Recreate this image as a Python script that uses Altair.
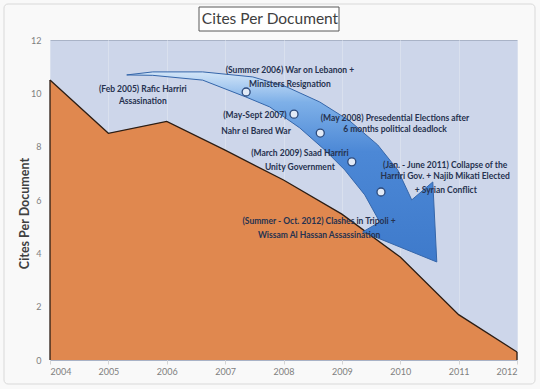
import altair as alt
import pandas as pd

# ---- data ----
years = [2004, 2005, 2006, 2007, 2008, 2009, 2010, 2011, 2012]
cites = [10.5, 8.5, 8.95, 7.87, 6.75, 5.47, 3.86, 1.7, 0.3]

ann_text = [
    "(Summer 2006)  War on Lebanon +",
    "Ministers Resignation",
    "(Feb 2005) Rafic Harriri",
    "Assasination",
    "(May-Sept 2007)",
    "Nahr el Bared War",
    "(May 2008)  Presedential Elections after",
    "6 months political deadlock",
    "(March 2009)  Saad Harriri",
    "Unity Government",
    "(Jan. - June 2011) Collapse of the",
    "Harriri  Gov. + Najib Mikati Elected",
    "+ Syrian Conflict",
    "(Summer - Oct. 2012)  Clashes in Tripoli +",
    "Wissam Al Hassan Assassination",
]
ann_x = [2008.11, 2008.11, 2005.59, 2005.59, 2007.51, 2007.53, 2009.91, 2009.91,
         2008.28, 2008.28, 2010.77, 2010.77, 2010.78, 2008.61, 2008.61]
ann_y = [10.88, 10.35, 10.16, 9.71, 9.19, 8.59, 9.08, 8.66,
         7.76, 7.24, 7.31, 6.90, 6.38, 5.21, 4.69]

marker_x = [2007.36, 2008.18, 2008.63, 2009.17, 2009.67]
marker_y = [10.05, 9.22, 8.51, 7.43, 6.30]

arrow_x = [2007.97]
arrow_y = [7.24]

title_text = ["Cites Per Document"]

# ---- tables ----
df = pd.DataFrame({"year": years, "value": cites, "zero": [0] * len(years)})
ann_df = pd.DataFrame({"year": ann_x, "value": ann_y, "label": ann_text})
mk_df = pd.DataFrame({"year": marker_x, "value": marker_y})
arrow_df = pd.DataFrame({"year": arrow_x, "value": arrow_y})
title_df = pd.DataFrame({"t": title_text})

W, H = 467, 320
FONT = "Lato"
xs = alt.Scale(domain=[2004, 2012], nice=False, zero=False)
ys = alt.Scale(domain=[0, 12], nice=False)

x_enc = alt.X("year:Q", scale=xs, axis=alt.Axis(
    values=years, format="d", title=None, grid=True, gridColor="#d9e0ee",
    gridWidth=1, domain=False, ticks=True, tickColor="#d4d4d4", tickSize=4,
    labelColor="#7f7f7f", labelFontSize=9, labelFont=FONT, labelPadding=3))
y_enc = alt.Y("value:Q", scale=ys, axis=alt.Axis(
    values=[0, 2, 4, 6, 8, 10, 12], grid=False, domain=False, ticks=False,
    labelColor="#7f7f7f", labelFontSize=9, labelFont=FONT, labelPadding=9,
    title="Cites Per Document", titleFont=FONT, titleFontSize=12.5,
    titleFontWeight="bold", titleColor="#404040", titleX=-26, titleY=173,
    titleAngle=270, titleAlign="center", titleBaseline="middle"))

frame = alt.Chart(title_df).mark_rect(
    fill="transparent", stroke="#d9d9d9", strokeWidth=1, cornerRadius=4
).encode(x=alt.value(-46), x2=alt.value(485), y=alt.value(-36), y2=alt.value(344))

area = alt.Chart(df).mark_area(
    color="#e0884f", opacity=1,
    line={"color": "#2b1d14", "strokeWidth": 1.3}
).encode(x=x_enc, y=y_enc)

edges = alt.Chart(df).transform_filter(
    "datum.year == 2004 || datum.year == 2012"
).mark_rule(color="#2b1d14", strokeWidth=1.3).encode(
    x=alt.X("year:Q", scale=xs), y=alt.Y("zero:Q", scale=ys), y2="value:Q")

ARROW = ("M -0.969 -0.575 L -0.806 -0.594 L -0.494 -0.594 L -0.181 -0.5625 "
         "L 0.031 -0.5 L 0.2375 -0.406 L 0.425 -0.2875 L 0.6 -0.1375 "
         "L 0.725 0.019 L 0.8125 0.206 L 0.944 0.094 L 0.969 0.594 "
         "L 0.506 0.406 L 0.6125 0.344 L 0.519 0.175 L 0.394 0.019 "
         "L 0.269 -0.106 L 0.1125 -0.244 L -0.075 -0.375 L -0.225 -0.4375 "
         "L -0.494 -0.5425 L -0.806 -0.5725 Z")

grad = alt.Gradient(
    gradient="linear",
    stops=[alt.GradientStop(color="#d2e5f8", offset=0),
           alt.GradientStop(color="#7eb0e8", offset=0.16),
           alt.GradientStop(color="#4c88d6", offset=0.42),
           alt.GradientStop(color="#3e7acb", offset=1)],
    x1=0, x2=0, y1=0, y2=1)

arrow = alt.Chart(arrow_df).mark_point(
    shape=ARROW, size=102400, filled=True, fill=grad, stroke="#3566aa",
    strokeWidth=1, opacity=1, fillOpacity=1
).encode(x=alt.X("year:Q", scale=xs), y=alt.Y("value:Q", scale=ys))

markers = alt.Chart(mk_df).mark_point(
    shape="circle", size=64, filled=True, fill="#e2eaf6", stroke="#2c4a7c",
    strokeWidth=1.3, opacity=1, fillOpacity=1
).encode(x=alt.X("year:Q", scale=xs), y=alt.Y("value:Q", scale=ys))

texts = alt.Chart(ann_df).mark_text(
    font=FONT, fontSize=8.5, fontWeight="bold", color="#26324f",
    align="center", baseline="middle"
).encode(x=alt.X("year:Q", scale=xs), y=alt.Y("value:Q", scale=ys), text="label:N")

tbox = alt.Chart(title_df).mark_rect(
    fill="white", stroke="#595959", strokeWidth=1
).encode(x=alt.value(149), x2=alt.value(289), y=alt.value(-33), y2=alt.value(-9))

ttext = alt.Chart(title_df).mark_text(
    font=FONT, fontSize=15.5, color="#404040", align="center", baseline="middle"
).encode(x=alt.value(220), y=alt.value(-21), text="t:N")

chart = alt.layer(frame, area, edges, arrow, markers, texts, tbox, ttext).properties(
    width=W, height=H,
    autosize=alt.AutoSizeParams(type="none"),
    padding={"left": 50, "top": 40, "right": 23, "bottom": 29},
    background="#f9f9f9",
).configure_view(stroke="#a9b3c7", fill="#cdd6ea")

chart.save("out.html", embed_options={"renderer": "svg", "actions": False})
